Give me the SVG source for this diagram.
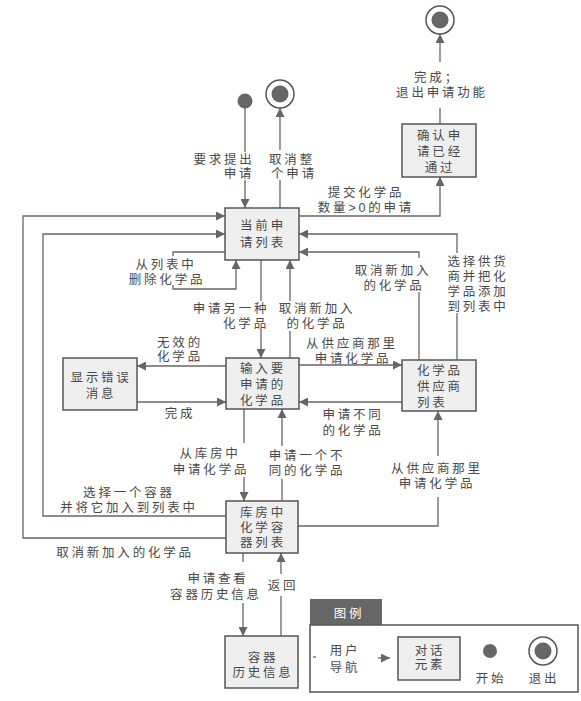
<svg xmlns="http://www.w3.org/2000/svg" width="581" height="701" viewBox="0 0 581 701">
<style>
.bg{fill:#ffffff}
.box{fill:#efefef;stroke:#555;stroke-width:1.5}
.ln{fill:none;stroke:#666;stroke-width:1.3}
.ar{fill:none;stroke:#666;stroke-width:1.3;marker-end:url(#ah)}
.t{font-family:"Liberation Sans","Noto Sans CJK SC",sans-serif;font-size:12.5px;fill:#4a4a4a;letter-spacing:2.8px;text-anchor:middle}
.ts{text-anchor:start}
.dot{fill:#666}
.ring{fill:#fff;stroke:#555;stroke-width:1.5}
.tab{fill:#666}
.tw{fill:#fff}
</style>
<defs>
<marker id="ah" markerUnits="userSpaceOnUse" markerWidth="10" markerHeight="9" refX="9" refY="4.5" orient="auto">
<path d="M0,0 L9,4.5 L0,9 z" fill="#666"/>
</marker>
</defs>
<rect class="bg" x="0" y="0" width="581" height="701"/>

<g id="connectors">
<path class="ln" d="M245,108 V152"/>
<path class="ar" d="M245,180 V208"/>
<path class="ln" d="M280,208 V180"/>
<path class="ar" d="M280,150 V108"/>
<path class="ar" d="M299,216 H440 V177"/>
<path class="ln" d="M440,124 V108"/>
<path class="ar" d="M440,62 V34"/>
<path class="ar" d="M226,538 H23 V216 H225"/>
<path class="ar" d="M226,516 H43 V234 H225"/>
<path class="ln" d="M225,252 H173 V256"/>
<path class="ar" d="M173,285 V289 H236 V260"/>
<path class="ln" d="M261,260 V301"/>
<path class="ar" d="M261,329 V358"/>
<path class="ln" d="M290,358 V331"/>
<path class="ar" d="M290,301 V260"/>
<path class="ar" d="M226,366 H137"/>
<path class="ar" d="M137,402 H226"/>
<path class="ar" d="M299,365 H402"/>
<path class="ar" d="M402,402 H299"/>
<path class="ln" d="M419,360 V292"/>
<path class="ar" d="M419,258 V252 H299"/>
<path class="ln" d="M457,360 V313"/>
<path class="ar" d="M457,253 V234 H299"/>
<path class="ln" d="M244,409 V443"/>
<path class="ar" d="M244,477 V501"/>
<path class="ln" d="M282,501 V479"/>
<path class="ar" d="M282,446 V409"/>
<path class="ln" d="M298,526 H438 V497"/>
<path class="ar" d="M438,456 V411"/>
<path class="ln" d="M243,553 V562"/>
<path class="ar" d="M243,603 V636"/>
<path class="ln" d="M281,636 V596"/>
<path class="ar" d="M281,574 V553"/>
</g>

<g id="labels">
<text class="t" y="82"><tspan x="437">完成；</tspan><tspan x="442" dy="15">退出申请功能</tspan></text>
<text class="t" y="164"><tspan x="224">要求提出</tspan><tspan x="239" dy="14">申请</tspan></text>
<text class="t" y="164"><tspan x="292">取消整</tspan><tspan x="294" dy="14">个申请</tspan></text>
<text class="t" y="197"><tspan x="366">提交化学品</tspan><tspan x="366" dy="15">数量&gt;0的申请</tspan></text>
<text class="t" y="269"><tspan x="166">从列表中</tspan><tspan x="167" dy="15">删除化学品</tspan></text>
<text class="t" y="275"><tspan x="393">取消新加入</tspan><tspan x="394" dy="15">的化学品</tspan></text>
<text class="t" y="266"><tspan x="478">选择供货</tspan><tspan x="478" dy="15">商并把化</tspan><tspan x="478" dy="15">学品添加</tspan><tspan x="478" dy="15">到列表中</tspan></text>
<text class="t" y="313"><tspan x="231">申请另一种</tspan><tspan x="246" dy="15">化学品</tspan></text>
<text class="t" y="313"><tspan x="317">取消新加入</tspan><tspan x="317" dy="15">的化学品</tspan></text>
<text class="t" y="347"><tspan x="180">无效的</tspan><tspan x="180" dy="14">化学品</tspan></text>
<text class="t" y="348"><tspan x="352">从供应商那里</tspan><tspan x="353" dy="15">申请化学品</tspan></text>
<text class="t" x="180" y="418">完成</text>
<text class="t" y="419"><tspan x="353">申请不同</tspan><tspan x="353" dy="16">的化学品</tspan></text>
<text class="t" y="458"><tspan x="210">从库房中</tspan><tspan x="211" dy="16">申请化学品</tspan></text>
<text class="t" y="460"><tspan x="307">申请一个不</tspan><tspan x="307" dy="15">同的化学品</tspan></text>
<text class="t" y="473"><tspan x="437">从供应商那里</tspan><tspan x="437" dy="15">申请化学品</tspan></text>
<text class="t" y="497"><tspan x="129">选择一个容器</tspan><tspan x="129" dy="15">并将它加入到列表中</tspan></text>
<text class="t" x="125" y="557">取消新加入的化学品</text>
<text class="t" y="583"><tspan x="218">申请查看</tspan><tspan x="216" dy="16">容器历史信息</tspan></text>
<text class="t" x="283" y="590">返回</text>
</g>

<g id="start">
<circle class="dot" cx="245" cy="101" r="7.5"/>
</g>
<g id="exit-cancel">
<circle class="ring" cx="280" cy="94" r="14"/>
<circle class="dot" cx="280" cy="94" r="8.5"/>
</g>
<g id="exit-done">
<circle class="ring" cx="440" cy="20" r="14"/>
<circle class="dot" cx="440" cy="20" r="8.5"/>
</g>

<g id="confirm">
<rect class="box" x="402" y="124" width="74" height="53"/>
<text class="t" y="140"><tspan x="440">确认申</tspan><tspan x="440" dy="16">请已经</tspan><tspan x="440" dy="16">通过</tspan></text>
</g>

<g id="current">
<rect class="box" x="225" y="208" width="74" height="52"/>
<text class="t" y="230"><tspan x="263">当前申</tspan><tspan x="263" dy="17">请列表</tspan></text>
</g>

<g id="error">
<rect class="box" x="63" y="358" width="74" height="52"/>
<text class="t" y="382"><tspan x="101">显示错误</tspan><tspan x="101" dy="16">消息</tspan></text>
</g>

<g id="input">
<rect class="box" x="226" y="358" width="73" height="51"/>
<text class="t" y="373"><tspan x="263">输入要</tspan><tspan x="263" dy="16">申请的</tspan><tspan x="263" dy="16">化学品</tspan></text>
</g>

<g id="supplier">
<rect class="box" x="402" y="360" width="74" height="51"/>
<text class="t ts" y="375"><tspan x="417">化学品</tspan><tspan x="417" dy="16">供应商</tspan><tspan x="417" dy="16">列表</tspan></text>
</g>

<g id="warehouse">
<rect class="box" x="226" y="501" width="72" height="52"/>
<text class="t" y="517"><tspan x="263">库房中</tspan><tspan x="263" dy="15">化学容</tspan><tspan x="263" dy="15">器列表</tspan></text>
</g>

<g id="history">
<rect class="box" x="225" y="636" width="73" height="52"/>
<text class="t" y="662"><tspan x="263">容器</tspan><tspan x="263" dy="15">历史信息</tspan></text>
</g>

<g id="legend">
<rect class="tab" x="310" y="599" width="72" height="26"/>
<text class="t tw" x="349" y="618">图例</text>
<rect fill="#fff" stroke="#555" stroke-width="1.5" x="310" y="625" width="268" height="67"/>
<path class="ln" d="M313,657 H316"/>
<text class="t" y="655"><tspan x="345">用户</tspan><tspan x="345" dy="17">导航</tspan></text>
<path class="ar" d="M378,658 H390"/>
<rect class="box" x="398" y="637" width="62" height="43"/>
<text class="t" y="655"><tspan x="430">对话</tspan><tspan x="430" dy="14">元素</tspan></text>
<circle class="dot" cx="490" cy="651" r="7"/>
<circle class="ring" cx="543" cy="651" r="14"/>
<circle class="dot" cx="543" cy="651" r="8.5"/>
<text class="t" x="491" y="683">开始</text>
<text class="t" x="544" y="683">退出</text>
</g>
</svg>
